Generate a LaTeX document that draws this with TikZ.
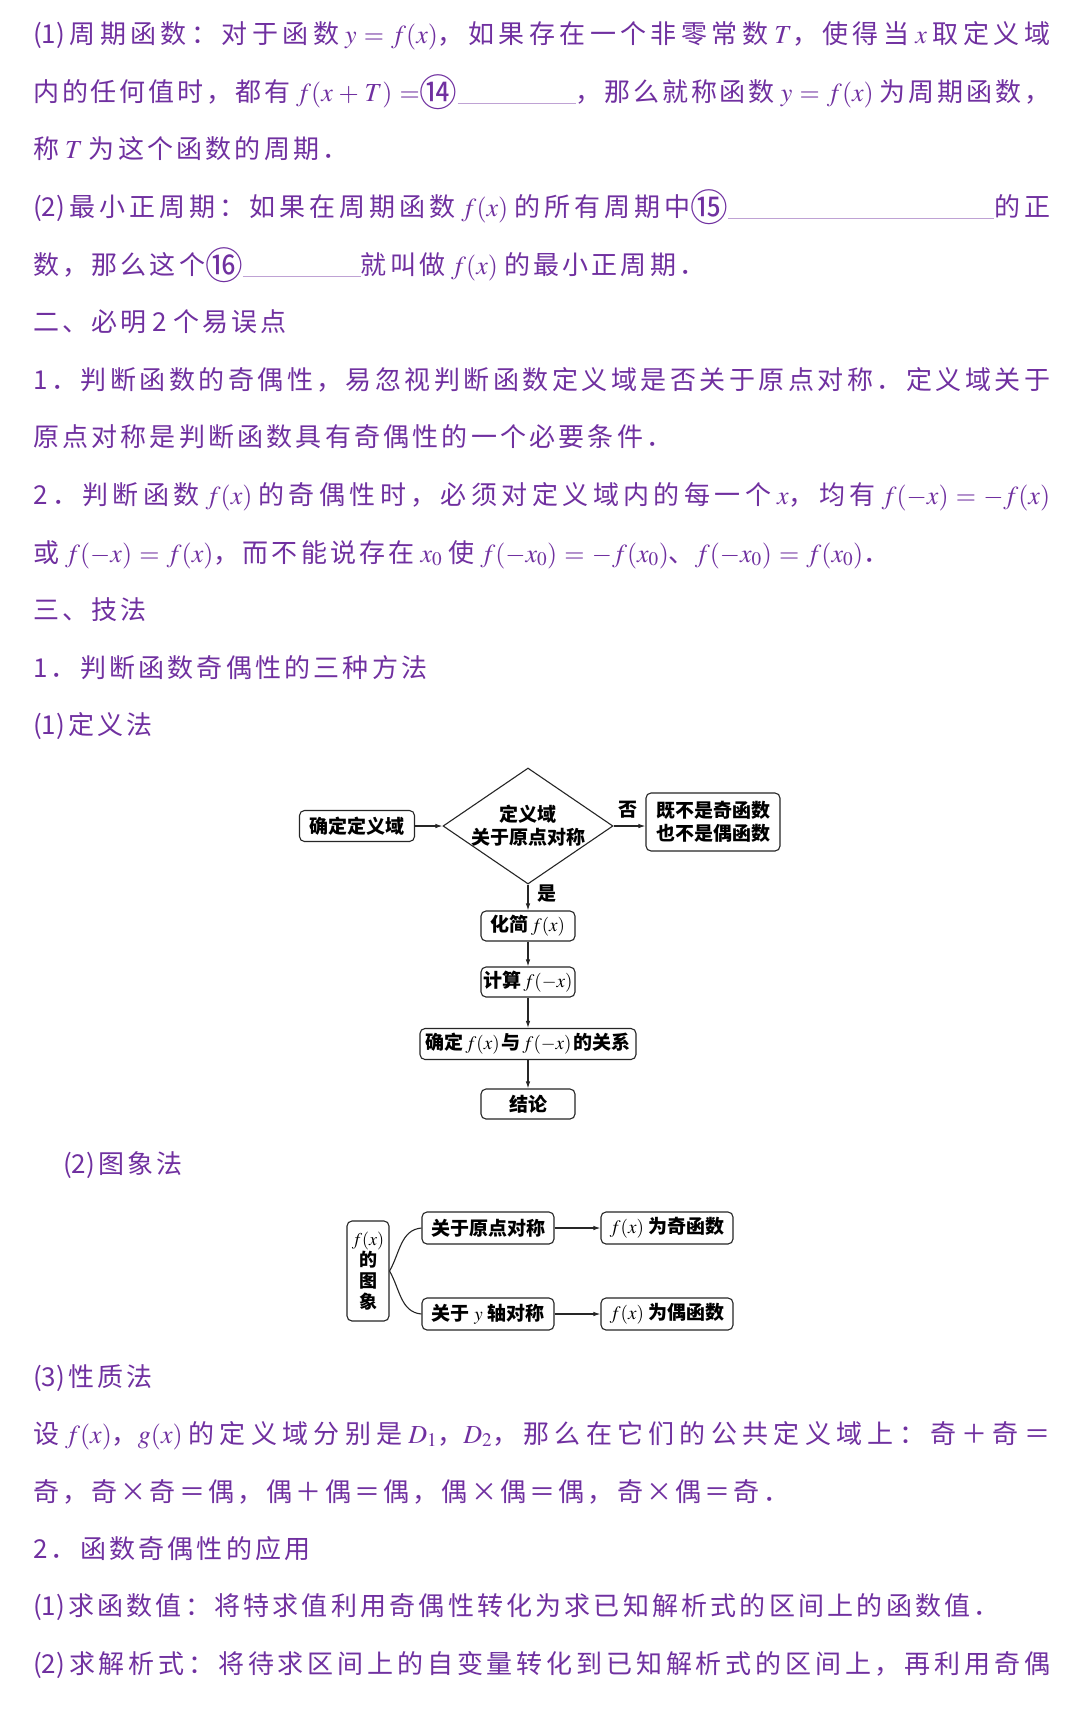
\documentclass[tikz,border=0pt]{standalone}
\usepackage{mathptmx}
\usepackage[no-math]{fontspec}
\setmainfont{Noto Sans CJK SC}
\usetikzlibrary{shapes.geometric,arrows.meta}
\definecolor{zi}{RGB}{112,48,160}
% spacing between Chinese characters, stretchable for full lines
\newXeTeXintercharclass\hanzi
\newcount\zc
\newcommand{\fenlei}[2]{\zc=#1\relax
  \loop \XeTeXcharclass\zc=\hanzi \advance\zc by 1 \ifnum\zc<#2\relax\repeat}
\fenlei{"3000}{"3040}
\fenlei{"4E00}{"A000}
\fenlei{"FF00}{"FFF0}
\fenlei{"2460}{"2500}
\XeTeXcharclass"00D7=\hanzi
\newcommand{\jiange}{\hskip 3.2pt plus 8pt minus 1pt\relax}
\newcommand{\wujg}{\XeTeXinterchartokenstate=0\relax}
\XeTeXinterchartokenstate=1
\XeTeXinterchartoks \hanzi \hanzi = {\jiange}
\XeTeXinterchartoks 0 \hanzi = {\jiange}
\XeTeXinterchartoks \hanzi 0 = {\jiange}
\thickmuskip=5mu\relax
\medmuskip=4mu\relax
\newcommand{\zhengh}[1]{\makebox[1017pt][s]{#1}}
\newcommand{\kg}{\hskip 6pt\relax}
\newcommand{\xk}{\hskip 2pt\relax}
\newcommand{\kong}[1]{{\color{zi!45}\rule[-3pt]{#1}{0.8pt}}}
\newcommand{\quan}[1]{\raisebox{-5pt}{\scalebox{1.45}{#1}}}

\begin{document}
\begin{tikzpicture}[x=1pt,y=-1pt,
    hang/.style={anchor=base west, inner sep=0pt, text=zi, font=\fontsize{26}{30}\selectfont},
    kuang/.style={draw=black!85, line width=1.1pt, rounded corners=5pt, inner sep=0pt, align=center, font=\fontsize{19}{23}\selectfont\bfseries\wujg},
    pan/.style={diamond, aspect=1.47, draw=black!85, line width=1.1pt, inner sep=-4pt, minimum width=170pt, minimum height=116pt, align=center, font=\fontsize{19}{23}\selectfont\bfseries\wujg},
    biao/.style={inner sep=0pt, font=\fontsize{19}{23}\selectfont\bfseries},
    jt/.style={draw=black!85, line width=1.1pt, -{Latex[length=7pt,width=4.5pt]}},
    xian/.style={draw=black!85, line width=1.1pt}]

  \fill[white] (0,0) rectangle (1080,1724);
  \useasboundingbox (0,0) rectangle (1080,1724);

  % text above the charts
  \node[hang] (l1) at (33,43) {\zhengh{(1)周期函数：对于函数\kg{}$y=f(x)$，如果存在一个非零常数\kg{}$T$，使得当\kg{}$x$\kg{}取定义域}};
  \node[hang] (l2) at (33,101) {\zhengh{内的任何值时，都有\kg{}$f(x+T)=$\quan{⑭}\kong{118pt}，那么就称函数\kg{}$y=f(x)$\kg{}为周期函数，}};
  \node[hang] (l3) at (33,158) {称\kg{}$T$\kg{}为这个函数的周期．};
  \node[hang] (l4) at (33,216) {\zhengh{(2)最小正周期：如果在周期函数\kg{}$f(x)$\kg{}的所有周期中\quan{⑮}\kong{266pt}的正}};
  \node[hang] (l5) at (33,274) {数，那么这个\quan{⑯}\kong{118pt}就叫做\kg{}$f(x)$\kg{}的最小正周期．};
  \node[hang] (l6) at (33,331) {二、必明\kg{}2\kg{}个易误点};
  \node[hang] (l7) at (33,389) {\zhengh{1．判断函数的奇偶性，易忽视判断函数定义域是否关于原点对称．定义域关于}};
  \node[hang] (l8) at (33,446) {原点对称是判断函数具有奇偶性的一个必要条件．};
  \node[hang] (l9) at (33,504) {\zhengh{2．判断函数\kg{}$f(x)$\kg{}的奇偶性时，必须对定义域内的每一个\kg{}$x$，均有\kg{}$f(-x)=-f(x)$}};
  \node[hang] (l10) at (33,562) {或\kg{}$f(-x)=f(x)$，而不能说存在\kg{}$x_0$\kg{}使\kg{}$f(-x_0)=-f(x_0)$、$f(-x_0)=f(x_0)$．};
  \node[hang] (l11) at (33,619) {三、技法};
  \node[hang] (l12) at (33,677) {1．判断函数奇偶性的三种方法};
  \node[hang] (l13) at (33,734) {(1)定义法};

  % definition method
  \node[kuang, minimum width=115pt, minimum height=31pt] (queding) at (357,826) {确定定义域};
  \node[pan] (panduan) at (528,826) {定义域\\关于原点对称};
  \node[kuang, minimum width=134pt, minimum height=58pt] (feiji) at (713,822) {既不是奇函数\\也不是偶函数};
  \node[biao] (fou) at (628,810) {否};
  \node[biao] (shi) at (547,894) {是};
  \node[kuang, minimum width=94pt, minimum height=30pt] (huajian) at (528,926) {化简\xk{}$f(x)$};
  \node[kuang, minimum width=94pt, minimum height=30pt] (jisuan) at (528,982) {计算\xk{}$f(-x)$};
  \node[kuang, minimum width=216pt, minimum height=31pt] (guanxi) at (528,1044) {确定\xk{}$f(x)$\xk{}与\xk{}$f(-x)$\xk{}的关系};
  \node[kuang, minimum width=94pt, minimum height=30pt] (jielun) at (528,1104) {结论};

  \draw[jt] (queding) -- (panduan);
  \draw[jt] (panduan.east) -- (panduan.east -| feiji.west);
  \draw[jt] (panduan) -- (huajian);
  \draw[jt] (huajian) -- (jisuan);
  \draw[jt] (jisuan) -- (guanxi);
  \draw[jt] (guanxi) -- (jielun);

  \node[hang] (l14) at (63,1173) {(2)图象法};

  % graph method
  \node[kuang, minimum width=42pt, minimum height=100pt, font=\fontsize{18}{21}\selectfont\bfseries\wujg] (tuxiang) at (368,1271) {$f(x)$\\的\\图\\象};
  \node[kuang, minimum width=132pt, minimum height=32pt] (yuandian) at (488,1228) {关于原点对称};
  \node[kuang, minimum width=132pt, minimum height=32pt] (yzhou) at (488,1314) {关于 $y$ 轴对称};
  \node[kuang, minimum width=132pt, minimum height=32pt] (qi) at (667,1228) {$f(x)$ 为奇函数};
  \node[kuang, minimum width=132pt, minimum height=32pt] (ou) at (667,1314) {$f(x)$ 为偶函数};

  \draw[xian] (tuxiang.east) to[out=60,in=185] (yuandian.west);
  \draw[xian] (tuxiang.east) to[out=-60,in=175] (yzhou.west);
  \draw[jt] (yuandian) -- (qi);
  \draw[jt] (yzhou) -- (ou);

  % text below the charts
  \node[hang] (l15) at (33,1386) {(3)性质法};
  \node[hang] (l16) at (33,1443) {\zhengh{设\kg{}$f(x)$，$g(x)$\kg{}的定义域分别是\kg{}$D_1$，$D_2$，那么在它们的公共定义域上：奇＋奇＝}};
  \node[hang] (l17) at (33,1501) {奇，奇×奇＝偶，偶＋偶＝偶，偶×偶＝偶，奇×偶＝奇．};
  \node[hang] (l18) at (33,1558) {2．函数奇偶性的应用};
  \node[hang] (l19) at (33,1615) {(1)求函数值：将特求值利用奇偶性转化为求已知解析式的区间上的函数值．};
  \node[hang] (l20) at (33,1673) {\zhengh{(2)求解析式：将待求区间上的自变量转化到已知解析式的区间上，再利用奇偶}};
\end{tikzpicture}
\end{document}
